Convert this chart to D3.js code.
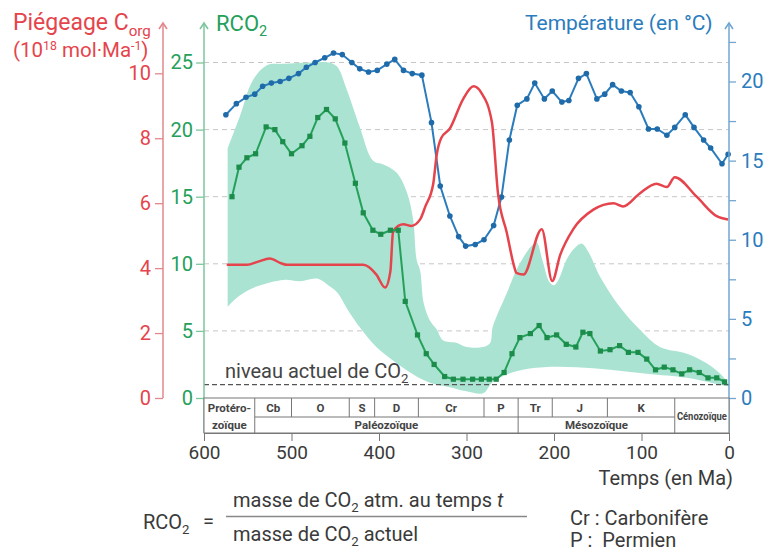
<!DOCTYPE html>
<html>
<head>
<meta charset="utf-8">
<script src="https://cdn.jsdelivr.net/npm/d3@7"></script>
<style>
body { margin: 0; background: #fff; }
svg { display: block; font-family: Roboto, "DejaVu Sans", sans-serif; }
</style>
</head>
<body>
<svg id="chart"></svg>
<script>
// temperature (blue), age in Ma
var tempAge = [575,563,552,542,533,523,513,503,492,483,473,462,452,442,431,422,412,402,391,382,372,362,351,340,330,319,309,301,290,280,269,260,251,242,231,222,211,202,191,183,172,163,151,142,133,123,113,103,92,82,71,62,50,40,29,21,8,1];
var tempVal = [17.9,18.6,19.0,19.2,19.7,19.9,20.0,20.2,20.5,20.9,21.2,21.5,21.8,21.7,21.2,20.8,20.6,20.7,21.1,21.4,20.7,20.5,20.4,17.4,13.4,11.5,10.2,9.6,9.7,10.0,10.9,12.7,16.3,18.5,18.9,19.9,18.9,19.4,18.7,18.8,20.2,20.5,18.9,19.2,19.8,19.4,19.3,18.4,17.0,17.0,16.6,17.1,17.9,17.1,16.3,15.8,14.8,15.4];

// RCO2 (green)
var rcoAge = [568,560,551,541,529,519,510,500,488,479,470,460,450,439,427,418,407,398,387,378,370,356,346,337,325,315,304,293,283,274,266,257,248,239,227,217,208,197,186,175,167,159,147,136,125,115,104,94,84,74,64,54,45,34,24,14,5];
var rcoVal = [15.0,17.2,17.9,18.2,20.2,20.0,19.1,18.2,18.8,19.5,20.9,21.5,20.8,19.0,16.0,13.8,12.5,12.2,12.5,12.5,7.2,4.7,3.3,2.5,1.6,1.4,1.4,1.4,1.4,1.4,1.4,1.9,3.3,4.5,4.8,5.4,4.5,4.7,4.0,3.8,4.9,4.8,3.5,3.6,3.9,3.4,3.4,2.9,2.1,2.3,2.1,1.8,2.1,1.9,1.5,1.5,1.2];

// RCO2 uncertainty band
var envUpAge = [573,559,544,528,510,475,458,448,437,422,407,395,380,368,361,357,353,349,342,334,327,311,300,281,273,270,254,241,226,220,213,205,200,195,185,176,168,160,147,125,102,79,48,26,7,0];
var envUpVal = [18.6,21.0,23.7,24.8,24.9,25.0,25.0,24.7,23.0,20.2,17.7,17.4,16.8,15.3,13.3,10.3,9.5,7.1,5.8,5.1,4.3,4.1,3.8,3.8,4.1,5.3,7.8,9.8,11.3,11.6,10.2,8.6,8.4,8.8,10.4,11.2,11.5,10.8,9.0,6.8,5.1,3.8,3.3,2.6,1.6,0.9];
var envLowAge = [573,560,540,509,490,471,456,447,436,420,403,380,357,340,319,300,281,270,243,212,174,136,94,48,18,0];
var envLowVal = [6.8,7.6,8.3,8.8,8.7,8.9,8.3,7.8,6.6,5.1,3.8,2.6,1.6,1.1,0.8,0.5,0.35,1.2,2.0,2.3,2.3,2.1,1.8,1.5,1.1,0.85];

// piegeage C org (red)
var pigAge = [574,551,538,525,512,505,490,418,403,393,387,384,378,372,363,353,347,338,334,329,319,304,292,283,271,264,254,245,243,235,214,202,193,178,155,132,121,102,83,71,62,37,14,1];
var pigVal = [4.1,4.1,4.2,4.3,4.15,4.1,4.1,4.1,3.8,3.4,3.9,5.1,5.3,5.35,5.3,5.5,5.9,6.6,7.5,8.0,8.3,9.2,9.6,9.4,8.5,6.3,5.1,4.0,3.85,3.8,5.2,3.6,4.4,5.2,5.8,6.0,5.9,6.3,6.6,6.5,6.8,6.2,5.6,5.5];

// geological table
var periodNames = ["Cb","O","S","D","Cr","P","Tr","J","K"];
var periodBounds = [542,500,434,405,355,280,241,202,139,62];
var eraNames = ["Paléozoïque","Mésozoïque"];
var eraBounds = [542,241,62];

var xTicks = [600,500,400,300,200,100,0];
var pigTicks = [0,2,4,6,8,10];
var rcoTicks = [0,5,10,15,20,25];
var tempTicks = [0,2.5,5,7.5,10,12.5,15,17.5,20,22.5];

var width = 781, height = 552;
var red = "#e5444c", redAxis = "#e3878d";
var green = "#25a05a", greenDot = "#1c8c4a", greenAxis = "#7dc69d";
var blue = "#2b7cbd", blueDot = "#1f6aa8", blueAxis = "#72a6d0";
var mint = "#aae3d2", ink = "#3a3a3a";

var svg = d3.select('#chart').attr('width', width).attr('height', height);

var x = d3.scaleLinear().domain([600, 0]).range([204, 729]);
var yR = d3.scaleLinear().domain([0, 25]).range([398, 62.5]);
var yP = d3.scaleLinear().domain([0, 10]).range([398, 73.3]);
var yT = d3.scaleLinear().domain([0, 20]).range([398, 81.5]);

// dashed grid
svg.append('g').selectAll('line')
    .data(rcoTicks.slice(1))
    .join('line')
    .attr('x1', 204).attr('x2', 729)
    .attr('y1', d => yR(d)).attr('y2', d => yR(d))
    .attr('stroke', '#c6c6c6')
    .attr('stroke-dasharray', '5,4');

// band: upper edge, then lower edge back, straight closing edges
var bandLine = d3.line().x(d => x(d[0])).y(d => yR(d[1])).curve(d3.curveCatmullRom.alpha(0.5));
var upPts = envUpAge.map((a, i) => [a, envUpVal[i]]);
var lowPts = envLowAge.map((a, i) => [a, envLowVal[i]]).reverse();
var bandD = bandLine(upPts) + bandLine(lowPts).replace(/^M/, 'L') + 'Z';
svg.append('path').attr('d', bandD).attr('fill', mint);

// current CO2 level
svg.append('line')
    .attr('x1', 204).attr('x2', 729)
    .attr('y1', yR(1)).attr('y2', yR(1))
    .attr('stroke', '#555').attr('stroke-width', 1.3)
    .attr('stroke-dasharray', '5,3');

// temperature
var tempData = tempAge.map((a, i) => [a, tempVal[i]]);
svg.append('path')
    .attr('d', d3.line().x(d => x(d[0])).y(d => yT(d[1]))(tempData))
    .attr('fill', 'none').attr('stroke', blue).attr('stroke-width', 2);
svg.append('g').selectAll('circle')
    .data(tempData)
    .join('circle')
    .attr('cx', d => x(d[0])).attr('cy', d => yT(d[1]))
    .attr('r', 2.8).attr('fill', blueDot);

// piegeage
var pigData = pigAge.map((a, i) => [a, pigVal[i]]);
svg.append('path')
    .attr('d', d3.line().x(d => x(d[0])).y(d => yP(d[1])).curve(d3.curveMonotoneX)(pigData))
    .attr('fill', 'none').attr('stroke', red).attr('stroke-width', 2.5);

// RCO2
var rcoData = rcoAge.map((a, i) => [a, rcoVal[i]]);
svg.append('path')
    .attr('d', d3.line().x(d => x(d[0])).y(d => yR(d[1]))(rcoData))
    .attr('fill', 'none').attr('stroke', green).attr('stroke-width', 2);
svg.append('g').selectAll('rect')
    .data(rcoData)
    .join('rect')
    .attr('x', d => x(d[0]) - 2.6).attr('y', d => yR(d[1]) - 2.6)
    .attr('width', 5.2).attr('height', 5.2)
    .attr('fill', greenDot);

// text helper with sub / sup parts
function richText(sel, parts, size) {
    parts.forEach(function (p) {
        var t = sel.append('tspan').text(p[0]);
        if (p[1] == 'sub') t.attr('font-size', size * 0.66).attr('dy', size * 0.24);
        else if (p[1] == 'sup') t.attr('font-size', size * 0.6).attr('dy', -size * 0.36);
        else if (p[1] == 'subend') t.attr('dy', -size * 0.24);
        else if (p[1] == 'supend') t.attr('dy', size * 0.36);
        else if (p[1] == 'i') t.attr('font-style', 'italic');
    });
}

var niv = svg.append('text').attr('x', 225).attr('y', 378)
    .attr('font-size', 20).attr('fill', '#444');
richText(niv, [["niveau actuel de CO"], ["2", "sub"]], 20);

// axes
function styleAxis(g, col, textCol, size) {
    g.select('.domain').remove();
    g.selectAll('.tick line').attr('stroke', col).attr('stroke-width', 1.3);
    g.selectAll('.tick text').attr('fill', textCol).attr('font-size', size)
        .attr('font-family', 'Roboto, "DejaVu Sans", sans-serif');
}
function axisLine(xp, yBottom, col) {
    svg.append('line').attr('x1', xp).attr('x2', xp).attr('y1', yBottom).attr('y2', 23)
        .attr('stroke', col).attr('stroke-width', 1.5);
    svg.append('path').attr('d', 'M' + (xp - 4) + ',29L' + xp + ',23L' + (xp + 4) + ',29')
        .attr('fill', 'none').attr('stroke', col).attr('stroke-width', 1.6);
}

var gP = svg.append('g').attr('transform', 'translate(163,0)')
    .call(d3.axisLeft(yP).tickValues(pigTicks).tickSize(8).tickPadding(4));
styleAxis(gP, redAxis, red, 20);
axisLine(163, 398, redAxis);

var gR = svg.append('g').attr('transform', 'translate(204,0)')
    .call(d3.axisLeft(yR).tickValues(rcoTicks).tickSize(8).tickPadding(3));
styleAxis(gR, greenAxis, green, 20);
axisLine(204, 433, greenAxis);

var gT = svg.append('g').attr('transform', 'translate(729,0)')
    .call(d3.axisRight(yT).tickValues(tempTicks).tickSize(7).tickPadding(5)
        .tickFormat(d => d % 5 === 0 ? d : ''));
styleAxis(gT, blueAxis, blue, 20);
axisLine(729, 433, blueAxis);

// geological table
var y0 = 398, y1 = 417, y2 = 433;
var tab = svg.append('g').attr('stroke', '#777').attr('stroke-width', 1);
tab.append('rect').attr('x', 204).attr('y', y0).attr('width', 525).attr('height', y2 - y0)
    .attr('fill', '#fff');
tab.append('line').attr('x1', x(eraBounds[0])).attr('x2', x(eraBounds[2])).attr('y1', y1).attr('y2', y1);
tab.selectAll('.pb').data(periodBounds).join('line').attr('class', 'pb')
    .attr('x1', d => x(d)).attr('x2', d => x(d)).attr('y1', y0).attr('y2', y1);
tab.selectAll('.eb').data(eraBounds).join('line').attr('class', 'eb')
    .attr('x1', d => x(d)).attr('x2', d => x(d)).attr('y1', y1).attr('y2', y2);

var tt = svg.append('g').attr('font-weight', 'bold').attr('font-size', 11.5)
    .attr('fill', '#444').attr('text-anchor', 'middle');
tt.selectAll('.pn').data(periodNames).join('text').attr('class', 'pn')
    .attr('x', (d, i) => (x(periodBounds[i]) + x(periodBounds[i + 1])) / 2)
    .attr('y', 412).text(d => d);
tt.selectAll('.en').data(eraNames).join('text').attr('class', 'en')
    .attr('x', (d, i) => (x(eraBounds[i]) + x(eraBounds[i + 1])) / 2)
    .attr('y', 429).text(d => d);
tt.append('text').attr('x', (204 + x(eraBounds[0])) / 2).attr('y', 412).text('Protéro-');
tt.append('text').attr('x', (204 + x(eraBounds[0])) / 2).attr('y', 429).text('zoïque');
tt.append('text').attr('x', (x(eraBounds[2]) + 729) / 2).attr('y', 420)
    .attr('textLength', 50).attr('lengthAdjust', 'spacingAndGlyphs').text('Cénozoïque');

// time axis
var gX = svg.append('g').attr('transform', 'translate(0,' + y2 + ')')
    .call(d3.axisBottom(x).tickValues(xTicks).tickSize(8).tickSizeOuter(0).tickPadding(5));
gX.select('.domain').attr('stroke', '#777');
gX.selectAll('.tick line').attr('stroke', '#777');
gX.selectAll('.tick text').attr('fill', ink).attr('font-size', 19)
    .attr('font-family', 'Roboto, "DejaVu Sans", sans-serif');

svg.append('text').attr('x', 733).attr('y', 485).attr('text-anchor', 'end')
    .attr('font-size', 20).attr('fill', ink).text('Temps (en Ma)');

// titles
var t1 = svg.append('text').attr('x', 13).attr('y', 30).attr('font-size', 23).attr('fill', red);
richText(t1, [["Piégeage C"], ["org", "sub"]], 23);
var t2 = svg.append('text').attr('x', 13).attr('y', 57).attr('font-size', 20.5).attr('fill', red);
richText(t2, [["(10"], ["18", "sup"], [" mol·Ma", "supend"], ["-1", "sup"], [")", "supend"]], 20.5);
var t3 = svg.append('text').attr('x', 216).attr('y', 31).attr('font-size', 22).attr('fill', green);
richText(t3, [["RCO"], ["2", "sub"]], 22);
svg.append('text').attr('x', 525).attr('y', 30).attr('font-size', 21).attr('fill', blue)
    .text('Température (en °C)');

// formula
var f1 = svg.append('text').attr('x', 143).attr('y', 529).attr('font-size', 20).attr('fill', ink);
richText(f1, [["RCO"], ["2", "sub"]], 20);
svg.append('text').attr('x', 203).attr('y', 528).attr('font-size', 20).attr('fill', ink).text('=');
var f2 = svg.append('text').attr('x', 233).attr('y', 507).attr('font-size', 20).attr('fill', ink);
richText(f2, [["masse de CO"], ["2", "sub"], [" atm. au temps ", "subend"], ["t", "i"]], 20);
svg.append('line').attr('x1', 226).attr('x2', 527).attr('y1', 516.5).attr('y2', 516.5)
    .attr('stroke', '#888').attr('stroke-width', 1.5);
var f3 = svg.append('text').attr('x', 233).attr('y', 541).attr('font-size', 20).attr('fill', ink);
richText(f3, [["masse de CO"], ["2", "sub"], [" actuel", "subend"]], 20);
svg.append('text').attr('x', 570).attr('y', 525).attr('font-size', 20).attr('fill', ink)
    .text('Cr : Carbonifère');
svg.append('text').attr('x', 570).attr('y', 547).attr('font-size', 20).attr('fill', ink)
    .attr('xml:space', 'preserve').text('P :  Permien');
</script>
</body>
</html>
